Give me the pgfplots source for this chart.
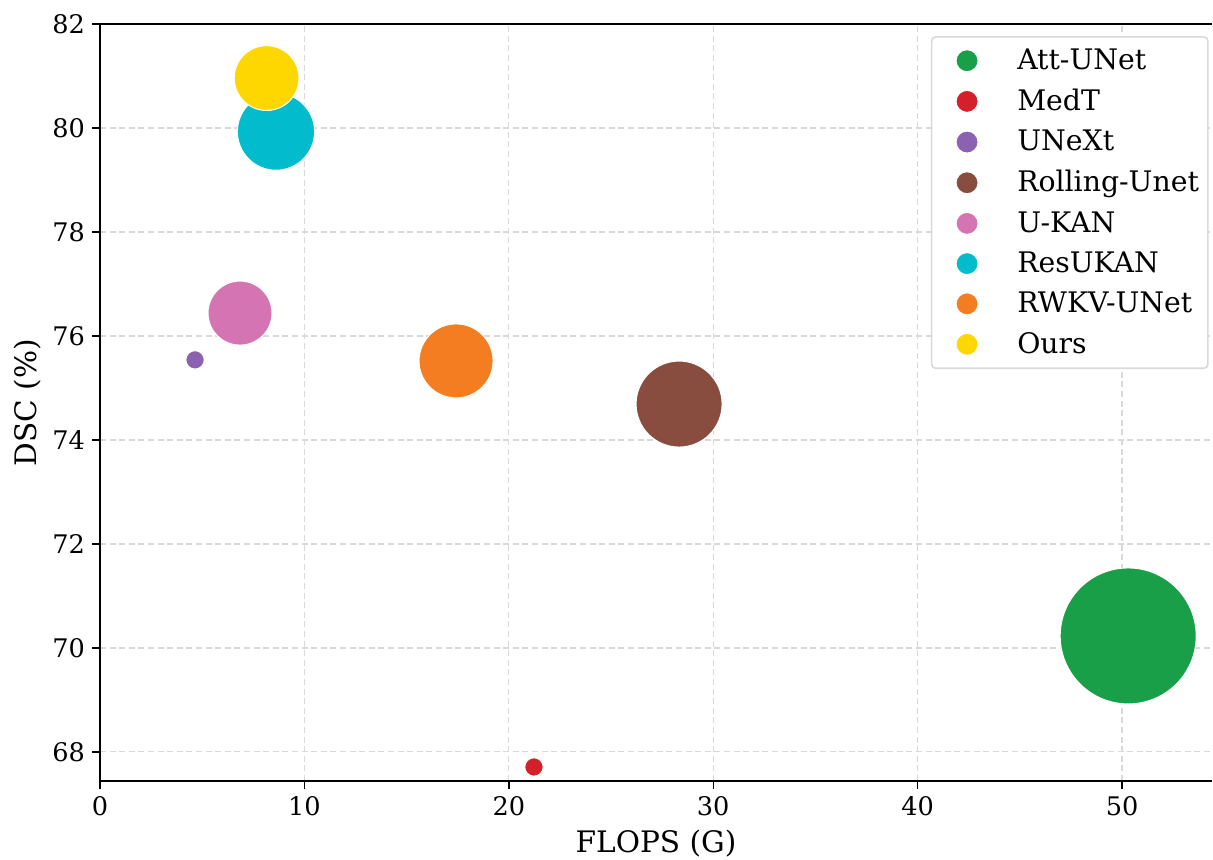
\documentclass[border=0pt]{standalone}
\usepackage{fontspec}
\setmainfont{DejaVu Serif}
\usepackage{pgfplots}
\pgfplotsset{compat=1.18}
\definecolor{cAtt}{HTML}{189F48}
\definecolor{cMedT}{HTML}{D3202A}
\definecolor{cUNeXt}{HTML}{8C62B0}
\definecolor{cRoll}{HTML}{894D3F}
\definecolor{cUKAN}{HTML}{D574B2}
\definecolor{cRes}{HTML}{02BCCD}
\definecolor{cRWKV}{HTML}{F47C21}
\definecolor{cOurs}{HTML}{FFD700}
\begin{document}
\begin{tikzpicture}
\begin{axis}[
  scale only axis,
  width=556pt, height=378.5pt,
  xmin=0, xmax=54.4, ymin=67.44, ymax=82,
  xtick={0,10,20,30,40,50},
  ytick={68,70,72,74,76,78,80,82},
  axis x line*=box, axis y line*=left,
  xtick pos=left, ytick pos=left,
  tick align=outside,
  major tick length=4pt,
  every tick/.style={black, line width=0.7pt},
  axis line style={black, line width=0.7pt},
  grid=major,
  major grid style={gray!30, dash pattern=on 3pt off 1.8pt, line width=0.6pt},
  tick label style={font=\fontsize{12.8}{15}\selectfont},
  /pgf/number format/assume math mode=true,
  xlabel={FLOPS (G)}, ylabel={DSC (\%)},
  label style={font=\fontsize{14.8}{17}\selectfont},
  xlabel style={yshift=-0.5pt},
  ylabel style={yshift=-1pt},
  legend cell align=left,
  legend style={at={(rel axis cs:0.997,0.984)}, anchor=north east,
    draw=gray!30, line width=0.8pt, rounded corners=2pt,
    font=\fontsize{14.15}{16.6}\selectfont, row sep=4.3pt,
    inner xsep=2.5pt, inner ysep=4pt},
  legend image code/.code={\path (0pt,0pt) (37.5pt,0pt); \draw[#1, mark size=5.5pt] plot coordinates {(14.8pt,0pt)};},
  every axis plot/.append style={only marks, mark=*, mark options={draw=white, line width=0.5pt}},
]
\addplot[color=cAtt, mark size=34pt] coordinates {(50.3,70.23)};
\addlegendentry{Att-UNet}
\addplot[color=cMedT, mark size=4.6pt] coordinates {(21.23,67.71)};
\addlegendentry{MedT}
\addplot[color=cUNeXt, mark size=4.6pt] coordinates {(4.65,75.54)};
\addlegendentry{UNeXt}
\addplot[color=cRoll, mark size=21.5pt] coordinates {(28.33,74.69)};
\addlegendentry{Rolling-Unet}
\addplot[color=cUKAN, mark size=16pt] coordinates {(6.85,76.44)};
\addlegendentry{U-KAN}
\addplot[color=cRes, mark size=19.3pt] coordinates {(8.61,79.93)};
\addlegendentry{ResUKAN}
\addplot[color=cRWKV, mark size=18.5pt] coordinates {(17.42,75.52)};
\addlegendentry{RWKV-UNet}
\addplot[color=cOurs, mark size=16.2pt] coordinates {(8.15,80.96)};
\addlegendentry{Ours}
\coordinate (sw) at (rel axis cs:0,0);
\coordinate (ne) at (rel axis cs:1,1);
\end{axis}
\pgfresetboundingbox
\path ([xshift=-50pt,yshift=-39pt]sw) rectangle ([xshift=0.5pt,yshift=12pt]ne);
\end{tikzpicture}
\end{document}
